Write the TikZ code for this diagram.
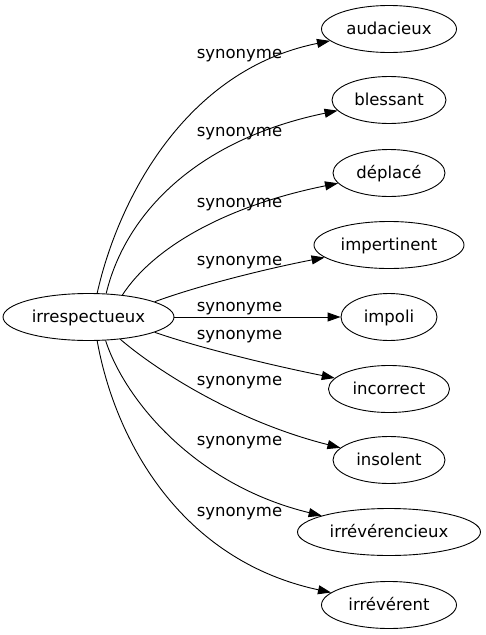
\documentclass[tikz,border=0pt]{standalone}
\usepackage{fontspec}
\setmainfont{DejaVu Sans}
\usetikzlibrary{shapes.geometric,arrows.meta}
\begin{document}
\begin{tikzpicture}[x=1pt,y=-1pt,
  word/.style={draw,ellipse,inner sep=0pt,minimum height=47pt,text height=12pt,text depth=1.4pt,font=\fontsize{16.5}{19}\selectfont,line width=0.9pt},
  rel/.style={font=\fontsize{16.5}{19}\selectfont,anchor=base,inner sep=0pt},
  link/.style={line width=0.9pt,-{Triangle[length=13pt,width=9pt]}}]
\useasboundingbox (0,0) rectangle (485,635);
% nodes
\node[word,minimum width=171pt] (c) at (88.5,317) {irrespectueux};
\node[word,minimum width=135pt] (n1) at (389,29) {audacieux};
\node[word,minimum width=114pt] (n2) at (389,100) {blessant};
\node[word,minimum width=112pt] (n3) at (389,173) {déplacé};
\node[word,minimum width=150pt] (n4) at (389,245) {impertinent};
\node[word,minimum width=96pt] (n5) at (389,317) {impoli};
\node[word,minimum width=121pt] (n6) at (389,389) {incorrect};
\node[word,minimum width=112pt] (n7) at (389,460) {insolent};
\node[word,minimum width=183pt] (n8) at (389,532) {irrévérencieux};
\node[word,minimum width=135pt] (n9) at (389,605) {irrévérent};
% labels
\node[rel] (l1) at (239.5,58.3) {synonyme};
\node[rel] (l2) at (239.5,136.7) {synonyme};
\node[rel] (l3) at (239.5,207.7) {synonyme};
\node[rel] (l4) at (239.5,265.7) {synonyme};
\node[rel] (l5) at (239.5,311.7) {synonyme};
\node[rel] (l6) at (239.5,339.3) {synonyme};
\node[rel] (l7) at (239.5,385) {synonyme};
\node[rel] (l8) at (239.5,445) {synonyme};
\node[rel] (l9) at (239.5,516.7) {synonyme};
% edges
\draw[link] (c.70) .. controls (118,200) and (185,70) .. (n1);
\draw[link] (c.53) .. controls (125,215) and (195,140) .. (n2);
\draw[link] (c.33) .. controls (155,245) and (230,205) .. (n3);
\draw[link] (c.13.5) .. controls (200,285) and (270,268) .. (n4);
\draw[link] (c) -- (n5);
\draw[link] (c.-13.5) .. controls (200,348) and (270,365) .. (n6);
\draw[link] (c.-35) .. controls (150,365) and (230,420) .. (n7);
\draw[link] (c.-54) .. controls (125,400) and (195,485) .. (n8);
\draw[link] (c.-70) .. controls (115,440) and (180,560) .. (n9);
\end{tikzpicture}
\end{document}
